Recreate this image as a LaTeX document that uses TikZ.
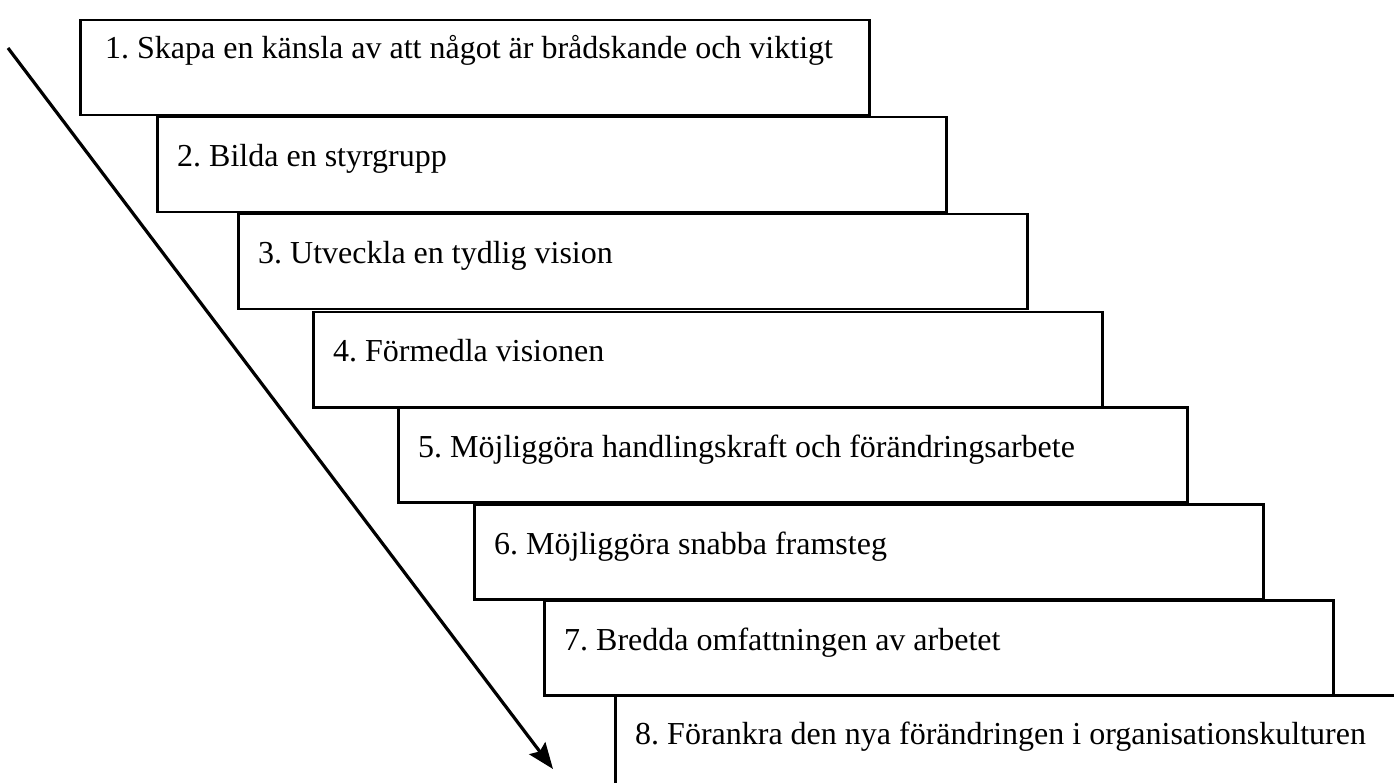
\documentclass[tikz,border=0pt]{standalone}
\usepackage{fontspec}
\setmainfont{Liberation Serif}
\usetikzlibrary{arrows.meta}
\begin{document}
\frenchspacing
\begin{tikzpicture}[x=1pt,y=-1pt,
  stepbox/.style={draw=black,line width=2.5pt,fill=white,minimum width=789pt,minimum height=95pt,inner sep=0pt,anchor=north west},
  steptext/.style={anchor=base west,inner sep=0pt,font=\fontsize{32}{37}\selectfont},
  arr/.style={line width=3.2pt,-{Stealth[length=26pt,width=20pt,inset=4pt]}}]
\useasboundingbox (0,0) rectangle (1394,783);
\clip (0,0) rectangle (1394,783);
\node[stepbox] (b1) at (79,19) {};
\node[stepbox] (b2) at (156,116) {};
\node[stepbox] (b3) at (237,213) {};
\node[stepbox] (b4) at (312,311) {};
\node[stepbox] (b5) at (397,406) {};
\node[stepbox] (b6) at (473,503) {};
\node[stepbox] (b7) at (543,599) {};
\node[stepbox,minimum height=120pt] (b8) at (614,694) {};
\node[steptext] (t1) at ([xshift=26pt,yshift=-40pt]b1.north west) {1. Skapa en känsla av att något är brådskande och viktigt};
\node[steptext] (t2) at ([xshift=21pt,yshift=-51pt]b2.north west) {2. Bilda en styrgrupp};
\node[steptext] (t3) at ([xshift=21pt,yshift=-51pt]b3.north west) {3. Utveckla en tydlig vision};
\node[steptext] (t4) at ([xshift=21pt,yshift=-51pt]b4.north west) {4. Förmedla visionen};
\node[steptext] (t5) at ([xshift=21pt,yshift=-51pt]b5.north west) {5. Möjliggöra handlingskraft och förändringsarbete};
\node[steptext] (t6) at ([xshift=21pt,yshift=-51pt]b6.north west) {6. Möjliggöra snabba framsteg};
\node[steptext] (t7) at ([xshift=21pt,yshift=-51pt]b7.north west) {7. Bredda omfattningen av arbetet};
\node[steptext] (t8) at ([xshift=21pt,yshift=-50pt]b8.north west) {8. Förankra den nya förändringen i organisationskulturen};
\coordinate (a0) at (8,48);
\coordinate (a1) at (553,769);
\draw[arr] (a0) -- (a1);
\end{tikzpicture}
\end{document}
